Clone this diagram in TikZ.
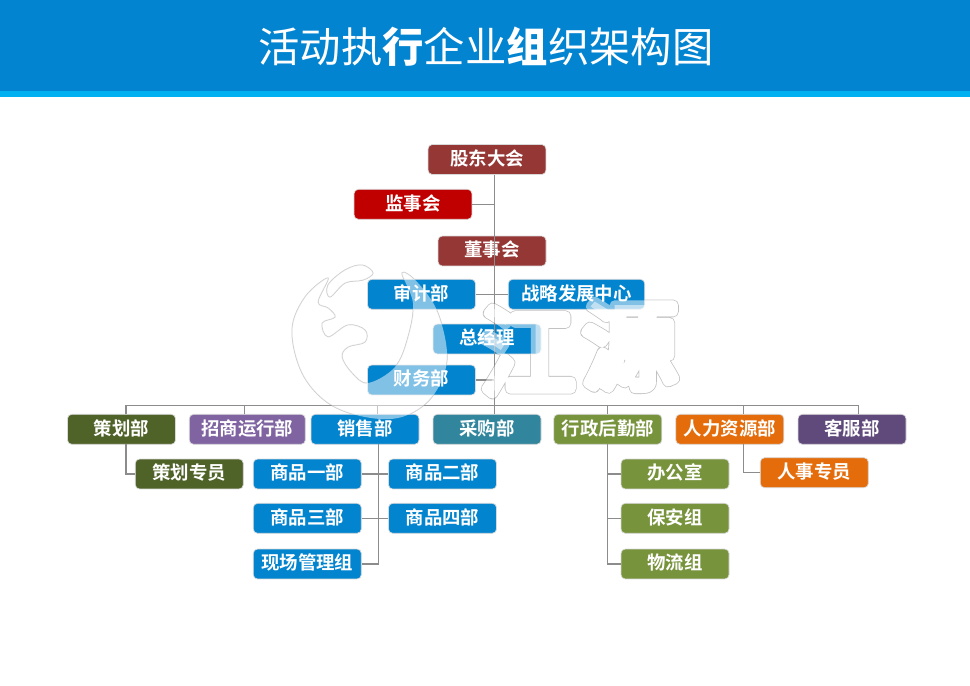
\documentclass[tikz,border=0pt]{standalone}
\usepackage{fontspec}
\newfontfamily\cjk{Noto Sans CJK SC}
\newfontfamily\cjkbold{Noto Sans CJK SC Bold}
\newfontfamily\cjkblack{Noto Sans CJK SC Black}

\definecolor{headblue}{HTML}{0284D0}
\definecolor{stripblue}{HTML}{00B0F0}
\definecolor{boardbrown}{HTML}{953735}
\definecolor{superred}{HTML}{C00000}
\definecolor{deptblue}{HTML}{0384CE}
\definecolor{planolive}{HTML}{4F6228}
\definecolor{bizpurple}{HTML}{8064A2}
\definecolor{buyteal}{HTML}{31859C}
\definecolor{admingreen}{HTML}{77933C}
\definecolor{hrorange}{HTML}{E46C0A}
\definecolor{servplum}{HTML}{604A7B}

\tikzset{
  orgbox/.style={draw=white!85!black, line width=0.5pt, rounded corners=3pt, inner sep=0pt,
    minimum height=21.3pt, text height=11.5pt, text depth=3pt, text=white,
    font=\cjkbold\fontsize{13.1}{15}\selectfont},
  wide/.style={orgbox, minimum width=76.8pt},
  link/.style={draw=black!45, line width=0.8pt},
  markline/.style={draw=black!22, line width=0.7pt},
  markglyph/.style={inner sep=0pt, font=\cjk\fontsize{68}{72}\selectfont}
}

% watermark outlines and fills
\newcommand{\logobody}{plot[smooth cycle, tension=.6] coordinates {(328,278) (305,297) (292,330) (302,373) (328,403) (365,417) (402,417) (432,397) (447,360) (438,313) (418,283) (402,273) (413,303) (408,337) (395,367) (368,383) (352,373) (342,357) (348,347) (365,342) (365,330) (348,325) (328,337) (322,323) (335,317) (328,308) (318,302)}}
\newcommand{\logotop}{plot[smooth cycle, tension=.6] coordinates {(328,285) (345,270) (362,265) (373,273) (363,280) (345,283) (330,297)}}
\newcommand{\strokeon}[1]{\special{pdf:code q 1 J 1 j #1}}
\newcommand{\strokeoff}{\special{pdf:code Q}}

\begin{document}
\begin{tikzpicture}[x=0.025cm, y=-0.025cm]
  \useasboundingbox (0,0) rectangle (970,685);

  % Header band
  \fill[headblue] (0,0) rectangle (970,91);
  \fill[stripblue] (0,91) rectangle (970,97);
  \node[text=white, inner sep=0pt, font=\cjk\fontsize{29.4}{32}\selectfont] (title) at (486,47)
    {活动执{\cjkblack 行}企业{\cjkblack 组}织架构图};

  % Watermark below the boxes
  \node[markglyph] (jiangline) at (527,351) {\strokeon{1 Tr 8 w 0.76 G}江\strokeoff};
  \node[markglyph] (yuanline) at (630,345) {\strokeon{1 Tr 8 w 0.76 G}源\strokeoff};
  \node[markglyph] (jiangfill) at (527,351) {\strokeon{2 Tr 6.8 w 1 G 1 g}江\strokeoff};
  \node[markglyph] (yuanfill) at (630,345) {\strokeon{2 Tr 6.8 w 1 G 1 g}源\strokeoff};
  \draw[markline, fill=white] \logobody;
  \draw[markline, fill=white] \logotop;

  % Top of the chart
  \node[orgbox, fill=boardbrown, minimum width=83.8pt] (gudong) at (487,159.5) {股东大会};
  \node[orgbox, fill=superred, minimum width=83.8pt] (jianshi) at (413,204.3) {监事会};
  \node[wide, fill=boardbrown] (dongshi) at (492,251) {董事会};
  \node[wide, fill=deptblue] (shenji) at (421.5,294.3) {审计部};
  \node[orgbox, fill=deptblue, minimum width=97pt] (zhanlue) at (576.5,294.3) {战略发展中心};
  \node[wide, fill=deptblue] (zongjingli) at (487,339) {总经理};
  \node[wide, fill=deptblue] (caiwu) at (421.5,380) {财务部};

  % Department row
  \node[wide, fill=planolive] (cehua) at (121.5,429.3) {策划部};
  \node[orgbox, fill=bizpurple, minimum width=82.5pt] (zhaoshang) at (247.3,429.3) {招商运行部};
  \node[wide, fill=deptblue] (xiaoshou) at (365,429.3) {销售部};
  \node[wide, fill=buyteal] (caigou) at (487,429.3) {采购部};
  \node[wide, fill=admingreen] (xingzheng) at (607.8,429.3) {行政后勤部};
  \node[wide, fill=hrorange] (renli) at (729.8,429.3) {人力资源部};
  \node[wide, fill=servplum] (kefu) at (852,429.3) {客服部};

  % Teams under the departments
  \node[wide, fill=planolive] (cehuazy) at (189.3,474) {策划专员};
  \node[wide, fill=deptblue] (shangyi) at (307.3,474) {商品一部};
  \node[wide, fill=deptblue] (shanger) at (442.5,474) {商品二部};
  \node[wide, fill=deptblue] (shangsan) at (307.3,518.3) {商品三部};
  \node[wide, fill=deptblue] (shangsi) at (442.5,518.3) {商品四部};
  \node[wide, fill=deptblue] (xianchang) at (307.3,564) {现场管理组};
  \node[wide, fill=admingreen] (bangong) at (675,474) {办公室};
  \node[wide, fill=admingreen] (baoan) at (675,518.3) {保安组};
  \node[wide, fill=admingreen] (wuliu) at (675,564) {物流组};
  \node[wide, fill=hrorange] (renshi) at (814.3,472.7) {人事专员};

  % Trunk and bus
  \coordinate (trunk) at (494.7,405.3);
  \coordinate (cehuabus) at (126,405.3);
  \coordinate (kefubus) at (858.7,405.3);
  \draw[link] (gudong.south -| trunk) -- (trunk) -- (caigou.north -| trunk);
  \draw[link] (cehuabus) -- (kefubus);
  \draw[link] (jianshi.east) -- (jianshi.east -| trunk);
  \draw[link] (shenji.east) -- (zhanlue.west);
  \draw[link] (caiwu.east) -- (caiwu.east -| trunk);

  % Drops from the bus
  \foreach \n/\x in {cehua/126,zhaoshang/244.3,xiaoshou/377.3,xingzheng/607.7,renli/743.7,kefu/858.7}
    \draw[link] (\x,405.3) -- (\x,405.3 |- \n.north);

  % Branches below the departments
  \coordinate (salesdrop) at (378.7,444.3);
  \coordinate (admindrop) at (607.7,444.3);
  \draw[link] (126,444.3) |- (cehuazy.west);
  \draw[link] (743.7,444.3) |- (renshi.west);
  \draw[link] (salesdrop) |- (xianchang.east);
  \draw[link] (shangyi.east) -- (shanger.west);
  \draw[link] (shangsan.east) -- (shangsi.west);
  \draw[link] (admindrop) |- (wuliu.west);
  \draw[link] (bangong.west) -- (bangong.west -| admindrop);
  \draw[link] (baoan.west) -- (baoan.west -| admindrop);

  % Watermark veil over the boxes
  \node[markglyph, opacity=.5] (jiangveil) at (527,351) {\strokeon{2 Tr 6.8 w 1 G 1 g}江\strokeoff};
  \node[markglyph, opacity=.5] (yuanveil) at (630,345) {\strokeon{2 Tr 6.8 w 1 G 1 g}源\strokeoff};
  \fill[white, opacity=.5] \logobody;
  \fill[white, opacity=.5] \logotop;
\end{tikzpicture}
\end{document}
